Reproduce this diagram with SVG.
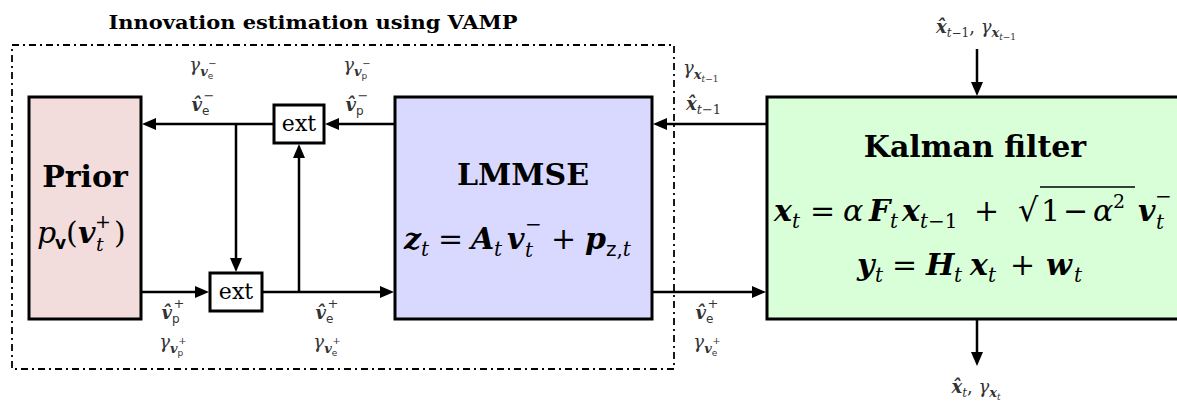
<svg xmlns="http://www.w3.org/2000/svg" width="1177" height="402" viewBox="0 0 1177 402">
<defs>
<marker id="ah" markerUnits="userSpaceOnUse" markerWidth="14" markerHeight="12" refX="2" refY="6" orient="auto"><path d="M0,0 L14,6 L0,12 z" fill="#000"/></marker>
<style>
.blk{stroke:#000;stroke-width:3}
.con{stroke:#000;stroke-width:2.5;fill:none;marker-end:url(#ah)}
.ttl{font-family:"DejaVu Serif",serif;font-weight:bold;font-size:30px;fill:#000;text-anchor:middle}
.eq{font-family:"DejaVu Serif",serif;font-size:30px;fill:#000}
.lbl{font-family:"DejaVu Serif",serif;font-size:18px;fill:#333}
.i{font-style:italic}
.bi{font-style:italic;font-weight:bold}
.sf{font-family:"DejaVu Sans",sans-serif;font-style:normal}
</style>
</defs>
<rect id="vamp-frame" x="12" y="45" width="662" height="324" fill="none" stroke="#000" stroke-width="1.8" stroke-dasharray="7 4 2 4"/>
<text id="title" x="313" y="29" font-family="DejaVu Serif, serif" font-weight="bold" font-size="19" text-anchor="middle" textLength="409" lengthAdjust="spacingAndGlyphs">Innovation estimation using VAMP</text>

<g id="prior">
<rect class="blk" x="29" y="97" width="112" height="222" fill="#f2dcdc"/>
<text class="ttl" x="85" y="187">Prior</text>
<text class="eq"><tspan class="i" x="37" y="243">p</tspan><tspan class="sf" font-weight="bold" font-size="17" x="55" y="249">v</tspan><tspan x="66" y="243">(</tspan><tspan class="bi" x="78" y="243">v</tspan><tspan class="i" font-size="19" x="96" y="251">t</tspan><tspan font-size="19" x="95" y="228">+</tspan><tspan x="114" y="243">)</tspan></text>
</g>

<g id="ext-top">
<rect class="blk" x="274" y="105" width="50" height="38" fill="#fff"/>
<text x="299" y="131" font-family="DejaVu Serif, serif" font-size="22" text-anchor="middle">ext</text>
</g>
<g id="ext-bottom">
<rect class="blk" x="210" y="273" width="52" height="38" fill="#fff"/>
<text x="236" y="299" font-family="DejaVu Serif, serif" font-size="22" text-anchor="middle">ext</text>
</g>

<g id="lmmse">
<rect class="blk" x="395" y="97" width="257" height="222" fill="#d9d9ff"/>
<text class="ttl" x="523" y="185">LMMSE</text>
<text class="eq"><tspan class="bi" x="404" y="249">z</tspan><tspan class="i" font-size="20" x="421" y="256">t</tspan><tspan x="438" y="249">=</tspan><tspan class="bi" x="471" y="249">A</tspan><tspan class="i" font-size="20" x="494" y="256">t</tspan><tspan class="bi" x="507" y="249">v</tspan><tspan class="i" font-size="20" x="525" y="257">t</tspan><tspan font-size="20" x="525" y="231">−</tspan><tspan x="551" y="249">+</tspan><tspan class="bi" x="585" y="249">p</tspan><tspan font-size="20" x="606" y="256"><tspan class="sf">z</tspan>,<tspan class="i">t</tspan></tspan></text>
</g>

<g id="kalman">
<rect class="blk" x="767" y="97" width="430" height="222" fill="#d9ffd9"/>
<text class="ttl" x="975" y="157">Kalman filter</text>
<text class="eq"><tspan class="bi" x="774" y="221">x</tspan><tspan class="i" font-size="20" x="792" y="228">t</tspan><tspan x="810" y="221">=</tspan><tspan class="i" x="843" y="221">α</tspan><tspan class="bi" x="869" y="221">F</tspan><tspan class="i" font-size="20" x="890" y="228">t</tspan><tspan class="bi" x="902" y="221">x</tspan><tspan font-size="20" x="920" y="228"><tspan class="i">t</tspan>−1</tspan><tspan x="974" y="221">+</tspan><tspan font-size="32" x="1018" y="221">√</tspan><tspan x="1041" y="221">1</tspan><tspan x="1063" y="221">−</tspan><tspan class="i" x="1093" y="221">α</tspan><tspan font-size="19" x="1113" y="208">2</tspan><tspan class="bi" x="1138" y="221">v</tspan><tspan class="i" font-size="20" x="1156" y="229">t</tspan><tspan font-size="20" x="1155" y="203">−</tspan></text>
<line x1="1040" y1="187" x2="1135" y2="187" stroke="#000" stroke-width="1.5"/>
<text class="eq"><tspan class="bi" x="857" y="275">y</tspan><tspan class="i" font-size="20" x="875" y="282">t</tspan><tspan x="892" y="275">=</tspan><tspan class="bi" x="926" y="275">H</tspan><tspan class="i" font-size="20" x="954" y="282">t</tspan><tspan class="bi" x="970" y="275">x</tspan><tspan class="i" font-size="20" x="988" y="282">t</tspan><tspan x="1010" y="275">+</tspan><tspan class="bi" x="1046" y="275">w</tspan><tspan class="i" font-size="20" x="1074" y="282">t</tspan></text>
</g>

<g id="connectors">
<path class="con" d="M273,124 H154"/>
<path class="con" d="M394,124 H337"/>
<path class="con" d="M766,124 H665"/>
<path class="con" d="M236,124 V260"/>
<path class="con" d="M142,292 H197"/>
<path class="con" d="M263,292 H382"/>
<path class="con" d="M299,292 V156"/>
<path class="con" d="M653,292 H754"/>
<path class="con" d="M977,49 V84"/>
<path class="con" d="M977,320 V354"/>
</g>

<g id="labels">
<text class="lbl" x="203" y="71" text-anchor="middle"><tspan class="i">γ</tspan><tspan class="bi" font-size="13" dy="5">v</tspan><tspan class="sf" font-size="9" dy="3">e</tspan><tspan font-size="10" dx="-5" dy="-12">−</tspan></text>
<text class="lbl" x="203" y="111" text-anchor="middle"><tspan class="bi">v̂</tspan><tspan class="sf" font-size="12" dy="4">e</tspan><tspan font-size="13" dx="-6" dy="-15">−</tspan></text>
<text class="lbl" x="357" y="71" text-anchor="middle"><tspan class="i">γ</tspan><tspan class="bi" font-size="13" dy="5">v</tspan><tspan class="sf" font-size="9" dy="3">p</tspan><tspan font-size="10" dx="-5" dy="-12">−</tspan></text>
<text class="lbl" x="357" y="111" text-anchor="middle"><tspan class="bi">v̂</tspan><tspan class="sf" font-size="12" dy="4">p</tspan><tspan font-size="13" dx="-6" dy="-15">−</tspan></text>
<text class="lbl" x="683" y="74"><tspan class="i">γ</tspan><tspan class="bi" font-size="13" dy="5">x</tspan><tspan font-size="9" dy="3"><tspan class="i">t</tspan>−1</tspan></text>
<text class="lbl" x="686" y="110"><tspan class="bi">x̂</tspan><tspan font-size="13" dy="4"><tspan class="i">t</tspan>−1</tspan></text>
<text class="lbl" x="976" y="33" text-anchor="middle" font-size="18"><tspan class="bi">x̂</tspan><tspan font-size="12" dy="4"><tspan class="i">t</tspan>−1</tspan><tspan dy="-4">,  </tspan><tspan class="i">γ</tspan><tspan class="bi" font-size="13" dy="4">x</tspan><tspan font-size="9" dy="3"><tspan class="i">t</tspan>−1</tspan></text>
<text class="lbl" x="976" y="393" text-anchor="middle" font-size="18"><tspan class="bi">x̂</tspan><tspan class="i" font-size="12" dy="4">t</tspan><tspan dy="-4">,  </tspan><tspan class="i">γ</tspan><tspan class="bi" font-size="13" dy="4">x</tspan><tspan class="i" font-size="9" dy="3">t</tspan></text>
<text class="lbl" x="173" y="319" text-anchor="middle"><tspan class="bi">v̂</tspan><tspan class="sf" font-size="12" dy="4">p</tspan><tspan font-size="13" dx="-6" dy="-15">+</tspan></text>
<text class="lbl" x="173" y="348" text-anchor="middle"><tspan class="i">γ</tspan><tspan class="bi" font-size="13" dy="5">v</tspan><tspan class="sf" font-size="9" dy="3">p</tspan><tspan font-size="10" dx="-5" dy="-12">+</tspan></text>
<text class="lbl" x="327" y="319" text-anchor="middle"><tspan class="bi">v̂</tspan><tspan class="sf" font-size="12" dy="4">e</tspan><tspan font-size="13" dx="-6" dy="-15">+</tspan></text>
<text class="lbl" x="327" y="348" text-anchor="middle"><tspan class="i">γ</tspan><tspan class="bi" font-size="13" dy="5">v</tspan><tspan class="sf" font-size="9" dy="3">e</tspan><tspan font-size="10" dx="-5" dy="-12">+</tspan></text>
<text class="lbl" x="707" y="319" text-anchor="middle"><tspan class="bi">v̂</tspan><tspan class="sf" font-size="12" dy="4">e</tspan><tspan font-size="13" dx="-6" dy="-15">+</tspan></text>
<text class="lbl" x="707" y="348" text-anchor="middle"><tspan class="i">γ</tspan><tspan class="bi" font-size="13" dy="5">v</tspan><tspan class="sf" font-size="9" dy="3">e</tspan><tspan font-size="10" dx="-5" dy="-12">+</tspan></text>
</g>
</svg>
